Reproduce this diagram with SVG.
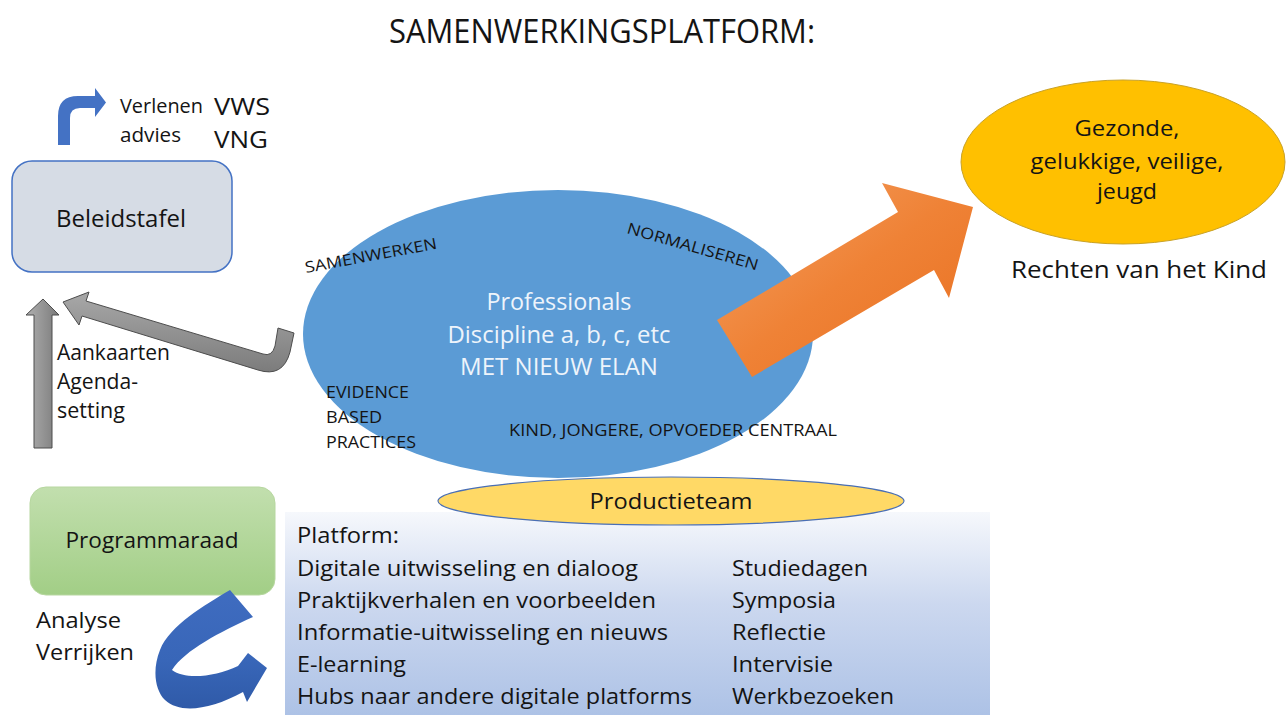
<svg xmlns="http://www.w3.org/2000/svg" width="1287" height="715" viewBox="0 0 1287 715">
<defs>
<style>
text{font-family:"Open Sans","Liberation Sans",sans-serif;fill:#141414}
.w{fill:#eef4fb}
.body{font-size:21px}
.cap{font-size:16.5px}
</style>
<linearGradient id="gGray" x1="0" y1="0" x2="1" y2="0">
<stop offset="0" stop-color="#b0b0b0"/><stop offset="1" stop-color="#7a7a7a"/>
</linearGradient>
<linearGradient id="gGray2" x1="0" y1="0" x2="0" y2="1">
<stop offset="0" stop-color="#a8a8a8"/><stop offset="1" stop-color="#7c7c7c"/>
</linearGradient>
<linearGradient id="gOrange" x1="0" y1="0" x2="1" y2="1">
<stop offset="0" stop-color="#f4a062"/><stop offset="0.5" stop-color="#ef8236"/><stop offset="1" stop-color="#e86f20"/>
</linearGradient>
<linearGradient id="gGreen" x1="0" y1="0" x2="0" y2="1">
<stop offset="0" stop-color="#c2dfae"/><stop offset="1" stop-color="#a2ce86"/>
</linearGradient>
<linearGradient id="gPlat" x1="0" y1="0" x2="0" y2="1">
<stop offset="0" stop-color="#f6f8fc"/><stop offset="0.45" stop-color="#ccd8ef"/><stop offset="1" stop-color="#adc2e6"/>
</linearGradient>
<linearGradient id="gBlue" x1="0" y1="0" x2="0" y2="1">
<stop offset="0" stop-color="#3f6cc0"/><stop offset="0.6" stop-color="#3866b8"/><stop offset="1" stop-color="#2f5aa8"/>
</linearGradient>
</defs>
<rect width="1287" height="715" fill="#ffffff"/>

<text x="602" y="43" font-size="32" text-anchor="middle" textLength="426" lengthAdjust="spacingAndGlyphs">SAMENWERKINGSPLATFORM:</text>

<g id="platform">
<rect x="285" y="512" width="705" height="203" fill="url(#gPlat)"/>
<text class="body" x="297" y="543" textLength="102" lengthAdjust="spacingAndGlyphs">Platform:</text>
<text class="body" x="297" y="576" textLength="341" lengthAdjust="spacingAndGlyphs">Digitale uitwisseling en dialoog</text>
<text class="body" x="297" y="608" textLength="359" lengthAdjust="spacingAndGlyphs">Praktijkverhalen en voorbeelden</text>
<text class="body" x="297" y="640" textLength="371" lengthAdjust="spacingAndGlyphs">Informatie-uitwisseling en nieuws</text>
<text class="body" x="297" y="672" textLength="109" lengthAdjust="spacingAndGlyphs">E-learning</text>
<text class="body" x="297" y="704" textLength="395" lengthAdjust="spacingAndGlyphs">Hubs naar andere digitale platforms</text>
<text class="body" x="732" y="576" textLength="136" lengthAdjust="spacingAndGlyphs">Studiedagen</text>
<text class="body" x="732" y="608" textLength="104" lengthAdjust="spacingAndGlyphs">Symposia</text>
<text class="body" x="732" y="640" textLength="94" lengthAdjust="spacingAndGlyphs">Reflectie</text>
<text class="body" x="732" y="672" textLength="101" lengthAdjust="spacingAndGlyphs">Intervisie</text>
<text class="body" x="732" y="704" textLength="162" lengthAdjust="spacingAndGlyphs">Werkbezoeken</text>
</g>

<g id="professionals">
<ellipse cx="558" cy="334" rx="255" ry="144" fill="#5b9bd5"/>
<text class="w" x="559" y="310" font-size="23" text-anchor="middle" textLength="145" lengthAdjust="spacingAndGlyphs">Professionals</text>
<text class="w" x="559" y="343" font-size="23" text-anchor="middle" textLength="223" lengthAdjust="spacingAndGlyphs">Discipline a, b, c, etc</text>
<text class="w" x="559" y="375" font-size="23" text-anchor="middle" textLength="198" lengthAdjust="spacingAndGlyphs">MET NIEUW ELAN</text>
<text font-size="15.5" transform="translate(306,273) rotate(-10.5)" textLength="134" lengthAdjust="spacingAndGlyphs">SAMENWERKEN</text>
<text font-size="15.5" transform="translate(626,233) rotate(16)" textLength="136" lengthAdjust="spacingAndGlyphs">NORMALISEREN</text>
<text class="cap" x="326" y="398" textLength="83" lengthAdjust="spacingAndGlyphs">EVIDENCE</text>
<text class="cap" x="326" y="423" textLength="56" lengthAdjust="spacingAndGlyphs">BASED</text>
<text class="cap" x="326" y="448" textLength="90" lengthAdjust="spacingAndGlyphs">PRACTICES</text>
<text class="cap" x="509" y="436" textLength="328" lengthAdjust="spacingAndGlyphs">KIND, JONGERE, OPVOEDER CENTRAAL</text>
</g>

<g id="productieteam">
<ellipse cx="671" cy="501" rx="233" ry="24" fill="#ffd966" stroke="#4a6fb5" stroke-width="1.2"/>
<text x="671" y="509" font-size="21" text-anchor="middle" textLength="163" lengthAdjust="spacingAndGlyphs">Productieteam</text>
</g>

<g id="beleidstafel">
<rect x="12" y="161" width="220" height="111" rx="20" fill="#d6dce5" stroke="#4472c4" stroke-width="1.5"/>
<text x="121" y="227" font-size="23" text-anchor="middle" textLength="130" lengthAdjust="spacingAndGlyphs">Beleidstafel</text>
</g>

<g id="programmaraad">
<rect x="30" y="487" width="245" height="108" rx="16" fill="url(#gGreen)" stroke="#b7d7a0" stroke-width="1"/>
<text x="152" y="548" font-size="22" text-anchor="middle" textLength="173" lengthAdjust="spacingAndGlyphs">Programmaraad</text>
</g>

<g id="doel">
<ellipse cx="1123" cy="162" rx="162" ry="82" fill="#ffc000" stroke="#c9a227" stroke-width="1"/>
<text x="1127" y="136" font-size="21" text-anchor="middle" textLength="105" lengthAdjust="spacingAndGlyphs">Gezonde,</text>
<text x="1127" y="169" font-size="21" text-anchor="middle" textLength="193" lengthAdjust="spacingAndGlyphs">gelukkige, veilige,</text>
<text x="1127" y="199" font-size="21" text-anchor="middle" textLength="60" lengthAdjust="spacingAndGlyphs">jeugd</text>
</g>
<text x="1139" y="278" font-size="23" text-anchor="middle" textLength="256" lengthAdjust="spacingAndGlyphs">Rechten van het Kind</text>

<g id="labels">
<text x="120" y="113" font-size="20" textLength="83" lengthAdjust="spacingAndGlyphs">Verlenen</text>
<text x="120" y="142" font-size="20" textLength="61" lengthAdjust="spacingAndGlyphs">advies</text>
<text x="214" y="115" font-size="23" textLength="56" lengthAdjust="spacingAndGlyphs">VWS</text>
<text x="214" y="148" font-size="23" textLength="54" lengthAdjust="spacingAndGlyphs">VNG</text>
<text x="57" y="360" font-size="21" textLength="113" lengthAdjust="spacingAndGlyphs">Aankaarten</text>
<text x="57" y="389" font-size="21" textLength="81" lengthAdjust="spacingAndGlyphs">Agenda-</text>
<text x="57" y="418" font-size="21" textLength="68" lengthAdjust="spacingAndGlyphs">setting</text>
<text x="36" y="628" font-size="21" textLength="85" lengthAdjust="spacingAndGlyphs">Analyse</text>
<text x="36" y="660" font-size="21" textLength="98" lengthAdjust="spacingAndGlyphs">Verrijken</text>
</g>

<g id="connectors">
<path d="M58,145 L58,116 Q58,96 78,96 L95,96 L95,88 L106,102.5 L95,117 L95,108 L80,108 Q70,108 70,118 L70,145 Z" fill="#4472c4"/>
<polygon points="34,448 52,448 52,315 59,315 43,299 26,315 34,315" fill="url(#gGray)" stroke="#4d4d4d" stroke-width="1"/>
<path d="M63,302 L89,292 L86,301 L263,354 Q272,357 275,346 L278,328 L294,333 L290,352 Q283,378 258,370 L82,316 L79,325 Z" fill="url(#gGray2)" stroke="#4d4d4d" stroke-width="1"/>
<path d="M717,320 L898,212 L882,183 L973,207 L949,298 L934,270 L752,377 Z" fill="url(#gOrange)"/>
<path d="M230,590 C205,605 170,625 160,650 C152,670 155,690 165,700 C180,714 210,710 243,692 L247,702 L267,668 L248,653 L238,666 C215,677 185,680 172,670 C185,650 220,632 253,617 Z" fill="url(#gBlue)"/>
</g>
</svg>
